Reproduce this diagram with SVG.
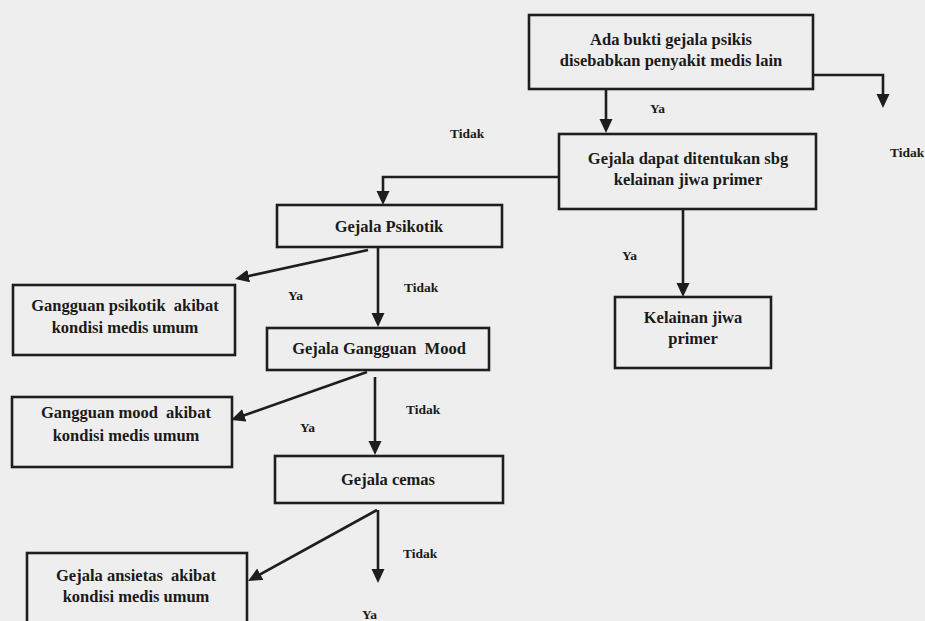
<svg xmlns="http://www.w3.org/2000/svg" width="925" height="621" viewBox="0 0 925 621">
<style>
.box{fill:none;stroke:#1e1e1e;stroke-width:2.6}
.t{font-family:'Liberation Serif','Tinos','DejaVu Serif',serif;font-weight:700;font-size:16.5px;fill:#1a1a1a;text-anchor:middle}
.l{font-family:'Liberation Serif','Tinos','DejaVu Serif',serif;font-weight:700;font-size:13.5px;fill:#1a1a1a}
.c{fill:none;stroke:#1e1e1e;stroke-width:2.6;marker-end:url(#ah)}
</style>
<defs>
<marker id="ah" markerUnits="userSpaceOnUse" markerWidth="16" markerHeight="14" refX="8" refY="6.5" orient="auto">
<path d="M0,0 L14,6.5 L0,13 z" fill="#1e1e1e"/>
</marker>
</defs>
<rect width="925" height="621" fill="#eeeeee"/>
<g id="n1"><rect class="box" x="529" y="15" width="284" height="74"/>
<text class="t" x="671" y="45">Ada bukti gejala psikis</text>
<text class="t" x="671" y="66">disebabkan penyakit medis lain</text></g>
<g id="n2"><rect class="box" x="559" y="134" width="257" height="75"/>
<text class="t" x="688" y="164">Gejala dapat ditentukan sbg</text>
<text class="t" x="688" y="185">kelainan jiwa primer</text></g>
<g id="n3"><rect class="box" x="615" y="297" width="156" height="71"/>
<text class="t" x="693" y="323">Kelainan jiwa</text>
<text class="t" x="693" y="344">primer</text></g>
<g id="n4"><rect class="box" x="277" y="205" width="225" height="42"/>
<text class="t" x="389" y="232">Gejala Psikotik</text></g>
<g id="n5"><rect class="box" x="13" y="285" width="222" height="70"/>
<text class="t" x="125" y="311" xml:space="preserve">Gangguan psikotik  akibat</text>
<text class="t" x="125" y="333">kondisi medis umum</text></g>
<g id="n6"><rect class="box" x="267" y="328" width="222" height="42"/>
<text class="t" x="379" y="354" xml:space="preserve">Gejala Gangguan  Mood</text></g>
<g id="n7"><rect class="box" x="12" y="397" width="220" height="70"/>
<text class="t" x="126" y="418" xml:space="preserve">Gangguan mood  akibat</text>
<text class="t" x="126" y="441">kondisi medis umum</text></g>
<g id="n8"><rect class="box" x="275" y="456" width="228" height="47"/>
<text class="t" x="388" y="485">Gejala cemas</text></g>
<g id="n9"><rect class="box" x="27" y="553" width="220" height="80"/>
<text class="t" x="136" y="581" xml:space="preserve">Gejala ansietas  akibat</text>
<text class="t" x="136" y="602">kondisi medis umum</text></g>
<g id="connectors">
<path class="c" d="M606,89 V127"/>
<path class="c" d="M813,75 H883 V102"/>
<path class="c" d="M559,177 H383 V199"/>
<path class="c" d="M683,209 V291"/>
<path class="c" d="M378,247 V321"/>
<path class="c" d="M368,250 L240.9,277.7"/>
<path class="c" d="M375,377 V449"/>
<path class="c" d="M367,372 L236.7,418"/>
<path class="c" d="M378,510 V577"/>
<path class="c" d="M377,510 L253.3,578.1"/>
</g>
<g id="labels">
<text class="l" x="650" y="113">Ya</text>
<text class="l" x="890" y="157">Tidak</text>
<text class="l" x="450" y="138">Tidak</text>
<text class="l" x="622" y="260">Ya</text>
<text class="l" x="404" y="292">Tidak</text>
<text class="l" x="288" y="300">Ya</text>
<text class="l" x="406" y="414">Tidak</text>
<text class="l" x="300" y="432">Ya</text>
<text class="l" x="403" y="558">Tidak</text>
<text class="l" x="362" y="619">Ya</text>
</g>
</svg>
